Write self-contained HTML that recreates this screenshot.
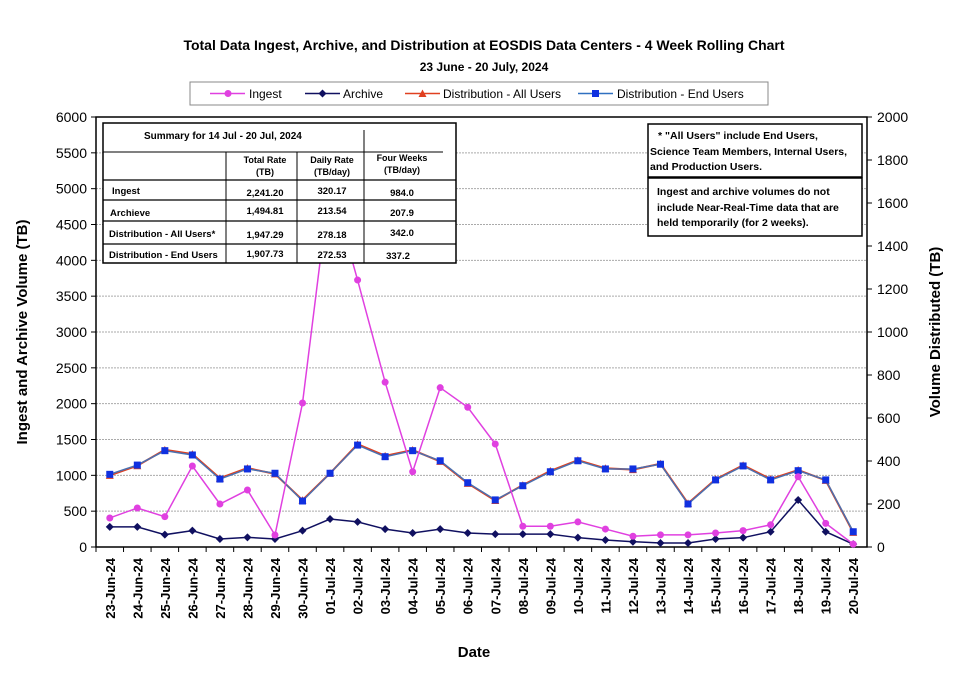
<!DOCTYPE html>
<html><head><meta charset="utf-8"><style>
body{margin:0;background:#fff;font-family:"Liberation Sans",Arial,sans-serif}
svg text{font-family:"Liberation Sans",Arial,sans-serif}
</style></head><body>
<svg width="955" height="689" viewBox="0 0 955 689" xmlns="http://www.w3.org/2000/svg" id="chart">
<text x="484" y="50" text-anchor="middle" font-size="14" font-weight="bold">Total Data Ingest, Archive, and  Distribution at EOSDIS Data Centers - 4 Week Rolling Chart</text>
<text x="484" y="71" text-anchor="middle" font-size="12" font-weight="bold">23  June   - 20  July,  2024</text>
<g>
<rect x="190" y="82" width="578" height="23" fill="#fff" stroke="#888"/>
<g><line x1="210" y1="93.5" x2="245" y2="93.5" stroke="#e040e0" stroke-width="1.5"/><circle cx="228" cy="93.5" r="3.5" fill="#e040e0"/><text x="249" y="98" font-size="12">Ingest</text></g>
<g><line x1="305" y1="93.5" x2="340" y2="93.5" stroke="#101060" stroke-width="1.5"/><path d="M322.5 89.5 L326.5 93.5 L322.5 97.5 L318.5 93.5Z" fill="#101060"/><text x="343" y="98" font-size="12">Archive</text></g>
<g><line x1="405" y1="93.5" x2="440" y2="93.5" stroke="#e04020" stroke-width="1.5"/><path d="M422.5 89.5 L426.5 97 L418.5 97Z" fill="#e04020"/><text x="443" y="98" font-size="12">Distribution - All Users</text></g>
<g><line x1="578" y1="93.5" x2="613" y2="93.5" stroke="#3070c0" stroke-width="1.5"/><rect x="592" y="90" width="7" height="7" fill="#1030e0"/><text x="617" y="98" font-size="12">Distribution - End Users</text></g>
</g>
<g id="grid"></g>
<g id="axes"></g>
<g id="series"></g>
<g font-weight="bold">
<rect x="103" y="123" width="353" height="140" fill="#fff" stroke="#000" stroke-width="1.5"/>
<line x1="103" y1="152" x2="443" y2="152" stroke="#000"/>
<line x1="103" y1="180" x2="456" y2="180" stroke="#000" stroke-width="1.2"/>
<line x1="103" y1="200" x2="456" y2="200" stroke="#000" stroke-width="1.2"/>
<line x1="103" y1="221" x2="456" y2="221" stroke="#000" stroke-width="1.2"/>
<line x1="103" y1="244" x2="456" y2="244" stroke="#000" stroke-width="1.2"/>
<line x1="226" y1="152" x2="226" y2="263" stroke="#000"/>
<line x1="297" y1="152" x2="297" y2="263" stroke="#000"/>
<line x1="364" y1="130" x2="364" y2="263" stroke="#000"/>
<text x="144" y="139" font-size="10">Summary  for  14  Jul   -  20  Jul,  2024</text>
<text x="265" y="163" font-size="9" text-anchor="middle">Total Rate</text><text x="265" y="175" font-size="9" text-anchor="middle">(TB)</text>
<text x="332" y="163" font-size="9" text-anchor="middle">Daily Rate</text><text x="332" y="175" font-size="9" text-anchor="middle">(TB/day)</text>
<text x="402" y="161" font-size="9" text-anchor="middle">Four Weeks</text><text x="402" y="173" font-size="9" text-anchor="middle">(TB/day)</text>
<g font-size="9.5">
<text x="112" y="194">Ingest</text><text x="265" y="196" text-anchor="middle">2,241.20</text><text x="332" y="194" text-anchor="middle">320.17</text><text x="402" y="196" text-anchor="middle">984.0</text>
<text x="110" y="216">Archieve</text><text x="265" y="214" text-anchor="middle">1,494.81</text><text x="332" y="214" text-anchor="middle">213.54</text><text x="402" y="216" text-anchor="middle">207.9</text>
<text x="109" y="237">Distribution - All Users*</text><text x="265" y="238" text-anchor="middle">1,947.29</text><text x="332" y="238" text-anchor="middle">278.18</text><text x="402" y="236" text-anchor="middle">342.0</text>
<text x="109" y="258">Distribution - End Users</text><text x="265" y="257" text-anchor="middle">1,907.73</text><text x="332" y="258" text-anchor="middle">272.53</text><text x="398" y="259" text-anchor="middle">337.2</text>
</g></g>
<g font-weight="bold" font-size="10.5">
<rect x="648" y="124" width="214" height="53" fill="#fff" stroke="#000" stroke-width="1.5"/>
<rect x="648" y="178" width="214" height="58" fill="#fff" stroke="#000" stroke-width="1.5"/>
<text x="658" y="139">* "All Users" include End Users,</text>
<text x="650" y="155">Science Team Members,  Internal Users,</text>
<text x="650" y="170">and Production Users.</text>
<text x="657" y="195">Ingest and archive volumes do not</text>
<text x="657" y="211">include Near-Real-Time data that are</text>
<text x="657" y="226">held temporarily (for 2 weeks).</text>
</g>
<text x="474" y="657" text-anchor="middle" font-size="15" font-weight="bold">Date</text>
<text transform="translate(27,332) rotate(-90)" text-anchor="middle" font-size="15" font-weight="bold">Ingest and Archive Volume (TB)</text>
<text transform="translate(940,332) rotate(-90)" text-anchor="middle" font-size="15" font-weight="bold">Volume Distributed (TB)</text>
</svg>
<script>
const dates=["23-Jun-24","24-Jun-24","25-Jun-24","26-Jun-24","27-Jun-24","28-Jun-24","29-Jun-24","30-Jun-24","01-Jul-24","02-Jul-24","03-Jul-24","04-Jul-24","05-Jul-24","06-Jul-24","07-Jul-24","08-Jul-24","09-Jul-24","10-Jul-24","11-Jul-24","12-Jul-24","13-Jul-24","14-Jul-24","15-Jul-24","16-Jul-24","17-Jul-24","18-Jul-24","19-Jul-24","20-Jul-24"];
const ingest=[405,544,423,1130,600,795,167,2009,5100,3725,2300,1050,2223,1950,1437,290,290,350,250,150,170,170,195,228,310,980,330,40];
const archive=[280,280,172,228,112,135,112,228,390,350,250,195,250,195,180,180,180,130,98,74,56,56,112,130,213,656,213,40];
const distAll=[333,378,452,432,320,367,340,218,343,478,424,451,398,296,216,288,354,404,366,360,387,203,315,380,316,358,310,68];
const distEnd=[338,381,448,428,316,363,343,214,343,474,420,448,401,299,219,285,350,401,363,363,385,200,312,377,312,355,312,71];
const leftTicks=[0,500,1000,1500,2000,2500,3000,3500,4000,4500,5000,5500,6000];
const rightTicks=[0,200,400,600,800,1000,1200,1400,1600,1800,2000];
const NS="http://www.w3.org/2000/svg";
const X0=96,X1=867,Y0=547,Y1=117;
const bw=(X1-X0)/dates.length;
const xs=i=>X0+bw*(i+0.5);
const yL=v=>Y0-(v/6000)*(Y0-Y1);
const yR=v=>Y0-(v/2000)*(Y0-Y1);
function mk(tag,attrs,parent){const e=document.createElementNS(NS,tag);for(const k in attrs)e.setAttribute(k,attrs[k]);parent.appendChild(e);return e;}
const grid=document.getElementById('grid'),axes=document.getElementById('axes'),ser=document.getElementById('series');
leftTicks.forEach(t=>{
  const y=yL(t);
  if(t>0){const g=mk('line',{x1:X0,x2:X1,y1:y,y2:y,stroke:'#aaa','stroke-width':1,'stroke-dasharray':'2,1'},grid);
  
  }
  mk('line',{x1:X0-5,x2:X0,y1:y,y2:y,stroke:'#000'},axes);
  const tx=mk('text',{x:X0-9,y:y+5,'text-anchor':'end','font-size':14},axes);tx.textContent=t;
  
  
});
rightTicks.forEach(t=>{
  const y=yR(t);
  mk('line',{x1:X1,x2:X1+5,y1:y,y2:y,stroke:'#000'},axes);
  const tx=mk('text',{x:X1+10,y:y+5,'font-size':14},axes);tx.textContent=t;
  
  
});
mk('rect',{x:X0,y:Y1,width:X1-X0,height:Y0-Y1,fill:'none',stroke:'#000','stroke-width':1.5},axes);
dates.forEach((d,i)=>{
  const xt=X0+bw*i;
  mk('line',{x1:xt,x2:xt,y1:Y0,y2:Y0+5,stroke:'#000'},axes);
  const tx=mk('text',{transform:`translate(${xs(i)+5},558) rotate(-90)`,'text-anchor':'end','font-size':13,'font-weight':'bold'},axes);
  tx.textContent=d;
  
  
});
function line(vals,yf,color,name,marker,mcolor,sw){
  const g=mk('g',{},ser);
  
  
  const pts=vals.map((v,i)=>xs(i)+','+yf(v)).join(' ');
  mk('polyline',{points:pts,fill:'none',stroke:color,'stroke-width':sw||1.5},g);
  vals.forEach((v,i)=>{
    const x=xs(i),y=yf(v);let m;
    if(marker==='circle')m=mk('circle',{cx:x,cy:y,r:3.5,fill:mcolor},g);
    else if(marker==='diamond')m=mk('path',{d:`M${x} ${y-4}L${x+4} ${y}L${x} ${y+4}L${x-4} ${y}Z`,fill:mcolor},g);
    else if(marker==='tri')m=mk('path',{d:`M${x} ${y-4}L${x+4} ${y+3.5}L${x-4} ${y+3.5}Z`,fill:mcolor},g);
    else m=mk('rect',{x:x-3.5,y:y-3.5,width:7,height:7,fill:mcolor},g);
    
    
  });
}
line(distAll,yR,'#e04020','series-distribution-all','tri','#e04020',2);
line(distEnd,yR,'#4a70b0','series-distribution-end','square','#1030e0',1.5);
line(archive,yL,'#101060','series-archive','diamond','#101060',1.5);
line(ingest,yL,'#e040e0','series-ingest','circle','#e040e0',1.5);
</script>
</body></html>
